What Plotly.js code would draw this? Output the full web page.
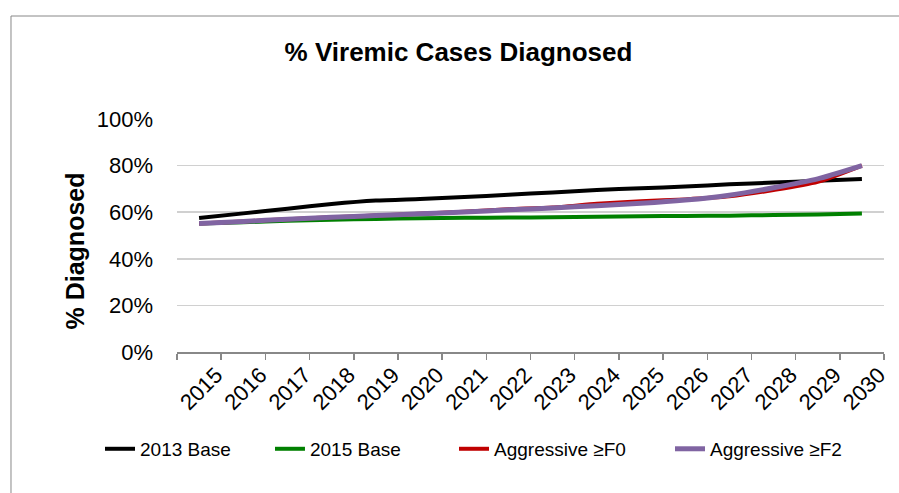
<!DOCTYPE html>
<html>
<head>
<meta charset="utf-8">
<script src="https://cdn.plot.ly/plotly-3.0.1.min.js"></script>
<style>html,body{margin:0;padding:0;background:#fff;}#chart{width:899px;height:493px;}</style>
</head>
<body>
<div id="chart"></div>
<script>
const years = ['2015','2016','2017','2018','2019','2020','2021','2022','2023','2024','2025','2026','2027','2028','2029','2030'];
const base2013 = [0.575,0.595,0.615,0.635,0.650,0.657,0.665,0.675,0.685,0.695,0.703,0.710,0.720,0.727,0.735,0.743];
const base2015 = [0.552,0.557,0.563,0.568,0.571,0.574,0.576,0.577,0.578,0.580,0.583,0.584,0.585,0.588,0.590,0.594];
const aggF0 = [0.552,0.560,0.570,0.578,0.586,0.593,0.602,0.613,0.620,0.636,0.647,0.655,0.668,0.695,0.730,0.800];
const aggF2 = [0.552,0.560,0.570,0.578,0.586,0.593,0.601,0.610,0.618,0.628,0.638,0.652,0.673,0.705,0.743,0.800];
const seriesNames = ['2013 Base','2015 Base','Aggressive \u2265F0','Aggressive \u2265F2'];
const seriesColors = ['#000000','#008000','#c00000','#8064a2'];
const seriesWidths = [4,4,4,5];
const seriesData = [base2013, base2015, aggF0, aggF2];
const legendIds = ['legend','legend2','legend3','legend4'];
const legendX = [-0.1089, 0.1315, 0.3918, 0.6973];

const traces = seriesData.map((d,i)=>({
  x: years, y: d, name: seriesNames[i], type:'scatter', mode:'lines', legend: legendIds[i],
  line:{color:seriesColors[i], width:seriesWidths[i], shape:'spline', smoothing:0.6}
}));

const font = 'Arial, "Liberation Sans", sans-serif';
const layout = {
  width:899, height:493,
  margin:{l:177, r:15, t:119, b:141},
  paper_bgcolor:'#fff', plot_bgcolor:'#fff',
  font:{family:font, color:'#000'},
  title:{text:'<b>% Viremic Cases Diagnosed</b>', font:{size:26, family:font, color:'#000'}, x:0.51, xanchor:'center', y:0.895, yanchor:'middle'},
  xaxis:{type:'category', range:[-0.5,15.5], showgrid:false, showline:true, linecolor:'#888', linewidth:1.5,
    ticks:'outside', tickson:'boundaries', ticklen:6, tickcolor:'#888', tickwidth:1.5,
    tickangle:-45, tickfont:{size:22, family:font, color:'#000'}, ticklabelshift:17},
  yaxis:{range:[0,1], dtick:0.2, tickformat:'.0%', showgrid:true, gridcolor:'#d0d0d0', gridwidth:1.5,
    zeroline:false, showline:false, ticks:'', tickfont:{size:22, family:font, color:'#000'}, ticklabelstandoff:23},
  annotations:[{text:'<b>% Diagnosed</b>', textangle:-90, xref:'paper', yref:'paper', x:-0.1443, y:0.4356,
    xanchor:'center', yanchor:'middle', showarrow:false, font:{size:25, family:font, color:'#000'}}],
  shapes:[{type:'rect', xref:'paper', yref:'paper', x0:-0.2348, x1:1.05, y0:-0.7, y1:1.442, line:{color:'#888', width:1}, fillcolor:'rgba(0,0,0,0)', layer:'below'}],
  showlegend:true
};
legendIds.forEach((id,i)=>{
  layout[id] = {orientation:'h', x:legendX[i], xanchor:'left', y:-0.416, yanchor:'middle',
    font:{size:19, family:font, color:'#000'}, bgcolor:'rgba(0,0,0,0)'};
});
Plotly.newPlot('chart', traces, layout, {displayModeBar:false, staticPlot:true});
</script>
</body>
</html>
